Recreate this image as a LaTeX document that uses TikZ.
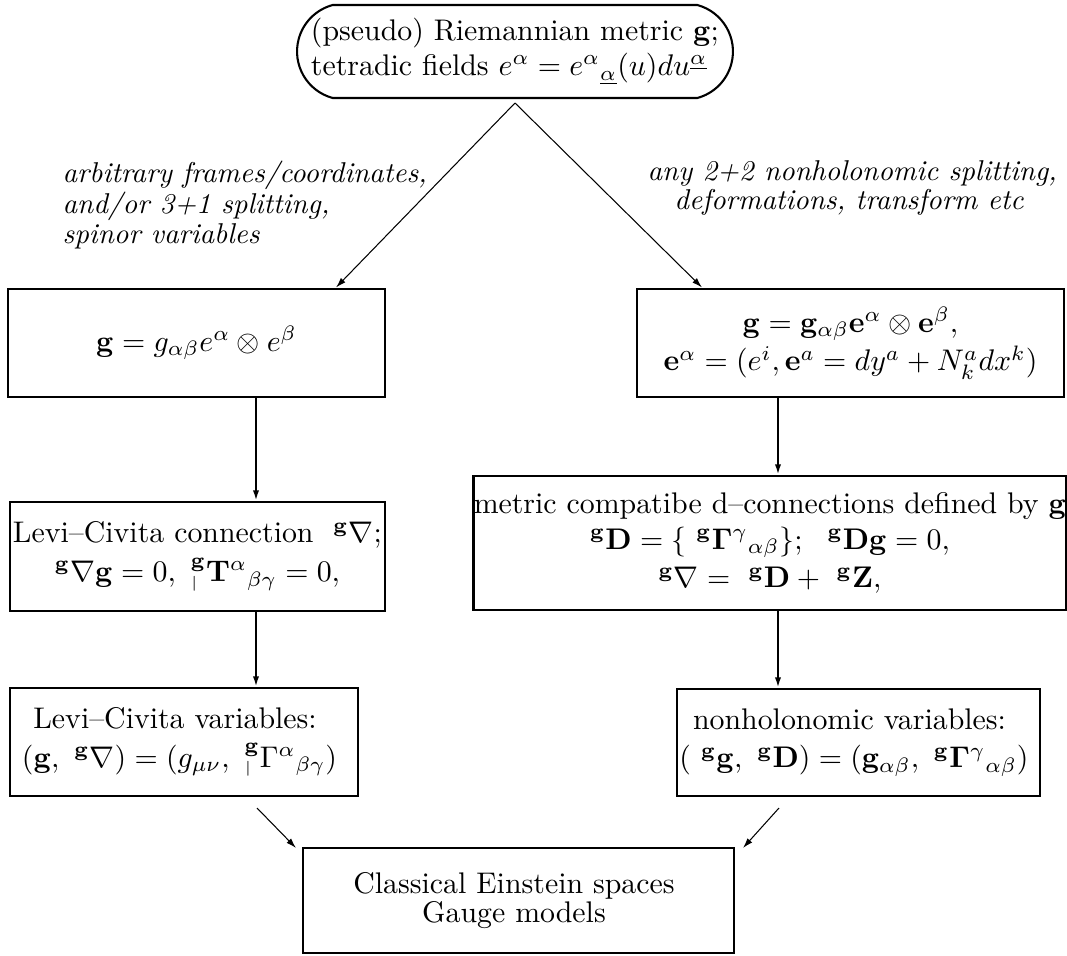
\RequirePackage{fix-cm}
\documentclass[tikz,border=0pt]{standalone}
\usepackage{amsmath,amssymb}
\usetikzlibrary{arrows.meta,shapes.misc}
\def\pu{0.335pt}
\begin{document}
\begin{tikzpicture}[x=\pu,y=-\pu,
  box/.style={draw, line width=1pt, rectangle, inner sep=0pt, align=center},
  lab/.style={inner sep=0pt, align=left, font=\fontsize{9.6}{8.4}\selectfont\itshape},
  arr/.style={-{Latex[length=3.4pt,width=2.1pt]}, line width=0.6pt},
  darr/.style={-{Latex[length=3.4pt,width=2.1pt]}, line width=0.35pt}]
\useasboundingbox (0,0) rectangle (1067,956);

\node[draw, rounded rectangle, rounded rectangle arc length=150, line width=0.7pt,
      minimum width=426*\pu, minimum height=93*\pu, inner sep=0pt, align=left] (top) at (515,51.5)
  {(pseudo) Riemannian metric $\mathbf{g}$;\\
   tetradic fields $e^{\alpha}=e^{\alpha}{}_{\underline{\alpha}}(u)du^{\underline{\alpha}}$};

\node[lab, anchor=north west] (ll) at (62,160)
  {arbitrary frames/coordinates,\\ and/or 3+1 splitting,\\ spinor variables};
\node[lab, anchor=north west] (rl) at (647,160)
  {any 2+2 nonholonomic splitting,\\ \hspace*{9pt}deformations, transform etc};

\node[box, minimum width=377*\pu, minimum height=108*\pu] (L1) at (196.5,343)
  {$\mathbf{g}=g_{\alpha\beta}e^{\alpha}\otimes e^{\beta}$};
\node[box, minimum width=427*\pu, minimum height=108*\pu] (R1) at (850.5,343)
  {$\mathbf{g}=\mathbf{g}_{\alpha\beta}\mathbf{e}^{\alpha}\otimes\mathbf{e}^{\beta},$\\[1pt]
   $\mathbf{e}^{\alpha}=(e^{i},\mathbf{e}^{a}=dy^{a}+N_{k}^{a}dx^{k})$};

\node[box, minimum width=375*\pu, minimum height=109*\pu] (L2) at (197.5,556.5)
  {Levi--Civita connection $\ {}^{\mathbf{g}}\nabla;$\\[1pt]
   ${}^{\mathbf{g}}\nabla\mathbf{g}=0,\ {}_{\scriptscriptstyle|}^{\mathbf{g}}\mathbf{T}^{\alpha}{}_{\beta\gamma}=0,$};
\node[box, minimum width=588*\pu, minimum height=134*\pu] (R2) at (770,543)
  {metric compatibe d--connections defined by $\mathbf{g}$\\
   ${}^{\mathbf{g}}\mathbf{D}=\{\ {}^{\mathbf{g}}\mathbf{\Gamma}^{\gamma}{}_{\alpha\beta}\};\ \ {}^{\mathbf{g}}\mathbf{D}\mathbf{g}=0,$\\[1pt]
   ${}^{\mathbf{g}}\nabla=\ {}^{\mathbf{g}}\mathbf{D}+\ {}^{\mathbf{g}}\mathbf{Z},$};

\node[box, minimum width=348*\pu, minimum height=108*\pu] (L3) at (184,742)
  {Levi--Civita variables:\hspace*{6pt}\\[1pt]
   $(\mathbf{g},\ {}^{\mathbf{g}}\nabla)=(g_{\mu\nu},\ {}_{\scriptscriptstyle|}^{\mathbf{g}}\Gamma^{\alpha}{}_{\beta\gamma})$\hspace*{3pt}};
\node[box, minimum width=363*\pu, minimum height=107*\pu] (R3) at (858.5,742.5)
  {nonholonomic variables:\hspace*{6pt}\\[1pt]
   $(\ {}^{\mathbf{g}}\mathbf{g},\ {}^{\mathbf{g}}\mathbf{D})=(\mathbf{g}_{\alpha\beta},\ {}^{\mathbf{g}}\mathbf{\Gamma}^{\gamma}{}_{\alpha\beta})$\hspace*{3pt}};

\node[box, minimum width=431*\pu, minimum height=105*\pu] (B) at (518.5,900.5)
  {Classical Einstein spaces\hspace*{3pt}\\[-2pt] Gauge models\hspace*{3pt}};

\coordinate (apex) at (515,103);
\coordinate (xla) at (336,0);
\coordinate (xra) at (702,0);
\coordinate (xl) at (256,0);
\coordinate (xr) at (778,0);
\coordinate (bls) at (257,808);
\coordinate (ble) at (296,848);
\coordinate (brs) at (779,808);
\coordinate (bre) at (743,848);

\draw[darr] (apex) -- (L1.north -| xla);
\draw[darr] (apex) -- (R1.north -| xra);
\draw[arr] (L1.south -| xl) -- (L2.north -| xl);
\draw[arr] (L2.south -| xl) -- (L3.north -| xl);
\draw[arr] (R1.south -| xr) -- (R2.north -| xr);
\draw[arr] (R2.south -| xr) -- (R3.north -| xr);
\draw[darr] (bls) -- (ble);
\draw[darr] (brs) -- (bre);
\end{tikzpicture}
\end{document}
